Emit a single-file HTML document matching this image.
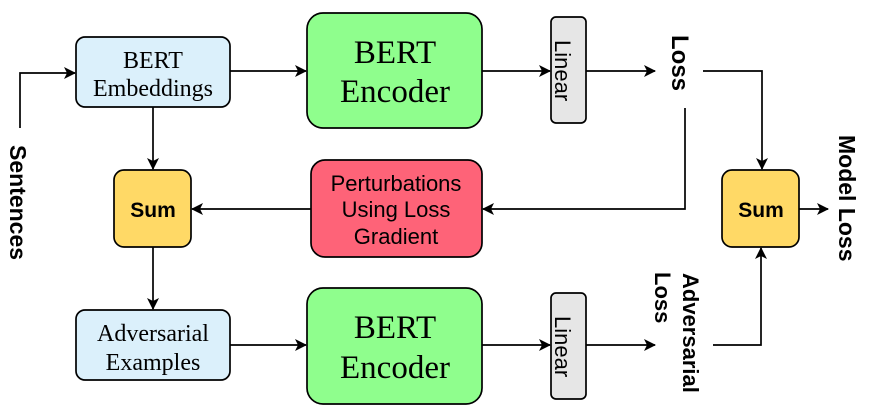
<!DOCTYPE html>
<html><head><meta charset="utf-8"><style>
html,body{margin:0;padding:0;background:#fff;}
svg{display:block;}
.serif{font-family:"Liberation Serif",serif;}
.sans{font-family:"Liberation Sans",sans-serif;}
</style></head><body>
<svg width="871" height="417" viewBox="0 0 871 417" xmlns="http://www.w3.org/2000/svg">
<defs>
<marker id="a" viewBox="0 0 12 12" refX="11" refY="6" markerWidth="12" markerHeight="12" markerUnits="userSpaceOnUse" orient="auto">
<path d="M0,0 L12,6 L0,12 L3,6 Z" fill="#000"/>
</marker>
</defs>
<g stroke="#000" stroke-width="1.7" fill="none">
<rect x="76" y="37" width="154" height="70" rx="9" fill="#dbf0fb"/>
<rect x="76" y="310" width="154" height="70" rx="9" fill="#dbf0fb"/>
<rect x="307" y="13" width="175" height="115" rx="16" fill="#8ffe8d"/>
<rect x="307" y="288" width="175" height="116" rx="16" fill="#8ffe8d"/>
<rect x="311" y="160" width="171" height="97" rx="14" fill="#fe6378"/>
<rect x="114" y="170" width="77" height="77" rx="10" fill="#ffd966"/>
<rect x="722" y="170" width="77" height="77" rx="10" fill="#ffd966"/>
<rect x="551" y="17" width="35" height="106" rx="5" fill="#e6e6e6"/>
<rect x="551" y="293" width="35" height="106" rx="5" fill="#e6e6e6"/>
<path d="M20,128 V73 H75" marker-end="url(#a)"/>
<path d="M230,71 H306" marker-end="url(#a)"/>
<path d="M482,71 H550" marker-end="url(#a)"/>
<path d="M586,71 H655" marker-end="url(#a)"/>
<path d="M703,71 H762 V169" marker-end="url(#a)"/>
<path d="M685,108 V209 H483" marker-end="url(#a)"/>
<path d="M311,209 H192" marker-end="url(#a)"/>
<path d="M153,107 V169" marker-end="url(#a)"/>
<path d="M153,247 V309" marker-end="url(#a)"/>
<path d="M230,345 H306" marker-end="url(#a)"/>
<path d="M482,345 H550" marker-end="url(#a)"/>
<path d="M586,345 H655" marker-end="url(#a)"/>
<path d="M713,345 H761 V248" marker-end="url(#a)"/>
<path d="M799,209 H828" marker-end="url(#a)"/>
</g>
<g class="serif" text-anchor="middle" fill="#000">
<text x="153" y="68" font-size="24">BERT</text>
<text x="153" y="96" font-size="24">Embeddings</text>
<text x="153" y="341" font-size="24">Adversarial</text>
<text x="153" y="370" font-size="24">Examples</text>
<text x="395" y="63" font-size="33">BERT</text>
<text x="395" y="102" font-size="33">Encoder</text>
<text x="395" y="338" font-size="33">BERT</text>
<text x="395" y="378" font-size="33">Encoder</text>
</g>
<g class="sans" fill="#000">
<text x="396" y="191" font-size="22" text-anchor="middle">Perturbations</text>
<text x="396" y="217" font-size="22" text-anchor="middle">Using Loss</text>
<text x="396" y="244" font-size="22" text-anchor="middle">Gradient</text>
<text x="153" y="217" font-size="21" font-weight="bold" text-anchor="middle">Sum</text>
<text x="761" y="217" font-size="21" font-weight="bold" text-anchor="middle">Sum</text>
<text transform="translate(555,40) rotate(90)" font-size="22">Linear</text>
<text transform="translate(555,316) rotate(90)" font-size="22">Linear</text>
<text transform="translate(672,35) rotate(90)" font-size="24" font-weight="bold">Loss</text>
<text transform="translate(839,135) rotate(90)" font-size="23" font-weight="bold">Model Loss</text>
<text transform="translate(10,145) rotate(90)" font-size="23" font-weight="bold">Sentences</text>
<text transform="translate(683,273) rotate(90)" font-size="22" font-weight="bold">Adversarial</text>
<text transform="translate(655,272) rotate(90)" font-size="22" font-weight="bold">Loss</text>
</g>
</svg>
</body></html>
